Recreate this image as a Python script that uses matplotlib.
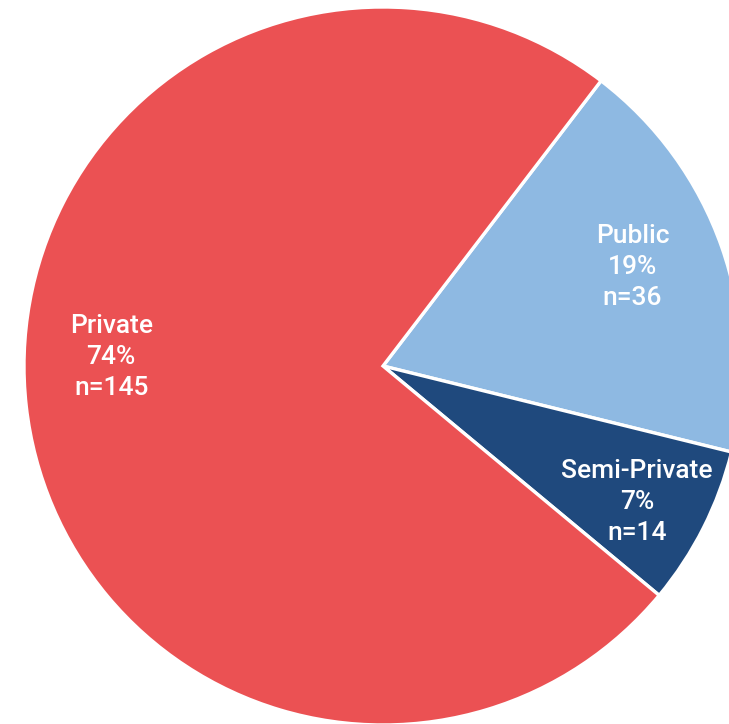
import matplotlib
matplotlib.use("Agg")
import matplotlib.pyplot as plt
import numpy as np

# Survey split by facility type
categories = ["Public", "Semi-Private", "Private"]
counts = [36, 14, 145]
percent_labels = ["19%", "7%", "74%"]
colors = ["#8EB9E2", "#1F497D", "#EB5153"]

plt.rcParams["font.family"] = ["Roboto", "DejaVu Sans"]

fig = plt.figure(figsize=(7.29, 7.24), dpi=100)
ax = fig.add_axes([0, 0, 1, 1])

wedges, _ = ax.pie(
    counts,
    colors=colors,
    startangle=52.6,
    counterclock=False,
    radius=1.0,
    wedgeprops=dict(edgecolor="white", linewidth=2.4),
)

# label anchor points (in pie-radius units, relative to the centre)
label_pos = {"Public": (0.695, 0.275), "Semi-Private": (0.708, -0.378),
             "Private": (-0.757, 0.025)}
for cat, n, pct in zip(categories, counts, percent_labels):
    x, y = label_pos[cat]
    ax.text(x, y, f"{cat}\n{pct}\nn={n}",
            ha="center", va="center", color="white", fontsize=19,
            fontweight="medium", linespacing=1.36)

# pie centre sits at (383, 366) px with a 359 px radius; the right edge is cut off
R = 359.0
ax.set_xlim(-383 / R, (729 - 383) / R)
ax.set_ylim(-(724 - 366) / R, 366 / R)
ax.set_axis_off()

fig.savefig("out.png", dpi=100, facecolor="white")
